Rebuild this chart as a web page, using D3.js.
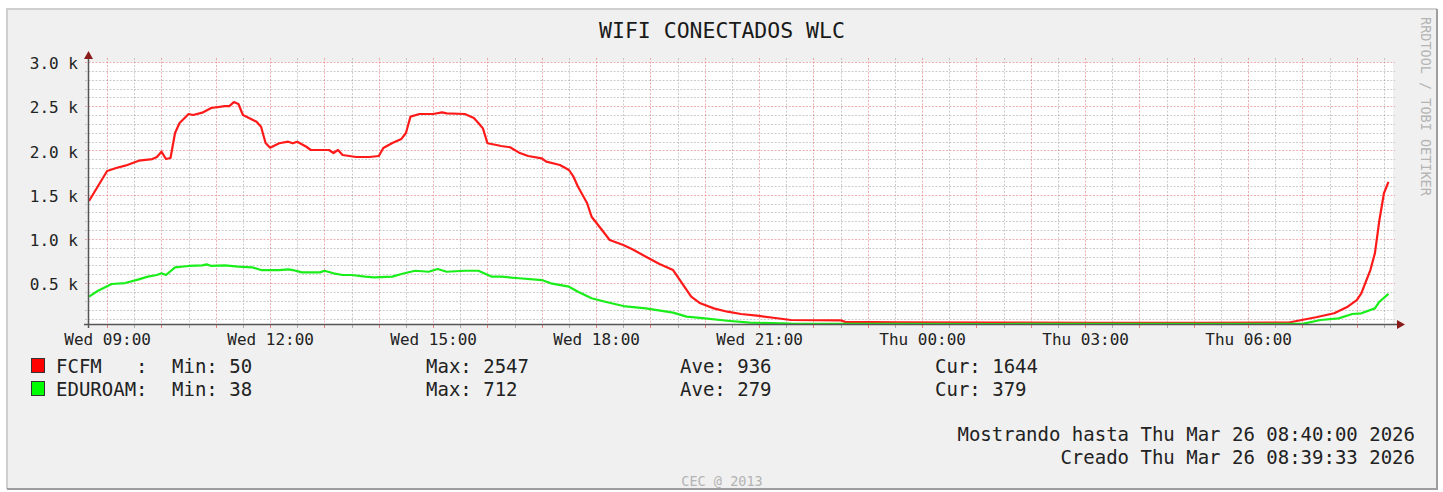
<!DOCTYPE html>
<html>
<head>
<meta charset="utf-8">
<script src="https://cdn.jsdelivr.net/npm/d3@7"></script>
<style>
  body { margin: 0; background: #fff; }
  svg text { font-family: "DejaVu Sans Mono", monospace; }
</style>
</head>
<body>
<div id="chart"></div>
<script>
// samples, minutes after Wed 25 Mar 2026 08:40
const fcfmMinutes = [0, 10, 20, 30, 40, 55, 70, 75, 80, 85, 90, 95, 100, 110, 115, 125, 135, 150, 155, 160,
  165, 170, 185, 190, 195, 200, 210, 220, 225, 230, 240, 245, 265, 270, 275, 280, 295, 310, 320, 325,
  335, 345, 350, 355, 365, 380, 390, 395, 415, 425, 430, 435, 440, 450, 455, 465, 475, 485, 500, 505,
  520, 530, 535, 540, 550, 555, 565, 575, 590, 600, 615, 630, 645, 655, 665, 675, 690, 705, 720, 740,
  760, 775, 830, 835, 895, 1005, 1115, 1225, 1325, 1335, 1355, 1375, 1390, 1400, 1405, 1415, 1420, 1425, 1430, 1435];
const fcfmValues = [1429, 1598, 1768, 1802, 1828, 1884, 1903, 1926, 1986, 1903, 1915, 2197, 2310, 2412, 2401, 2427, 2480, 2502, 2502, 2547,
  2525, 2401, 2325, 2268, 2084, 2031, 2081, 2099, 2081, 2099, 2042, 2005, 2005, 1971, 2005, 1949, 1926, 1926, 1937, 2028,
  2084, 2130, 2197, 2382, 2412, 2412, 2431, 2420, 2412, 2367, 2310, 2250, 2081, 2062, 2050, 2036, 1975, 1937, 1911, 1873,
  1835, 1779, 1703, 1590, 1406, 1251, 1120, 988, 931, 883, 799, 716, 648, 498, 347, 272, 215, 177, 151, 129,
  103, 83, 80, 62, 58, 55, 52, 50, 55, 75, 114, 159, 234, 309, 385, 648, 837, 1214, 1516, 1644];

const eduMinutes = [0, 10, 25, 40, 55, 65, 75, 80, 85, 95, 110, 125, 130, 135, 150, 165, 180, 190, 210, 220,
  225, 235, 255, 260, 270, 280, 290, 305, 315, 335, 345, 360, 375, 385, 395, 415, 430, 445, 455, 475,
  500, 510, 530, 540, 555, 570, 590, 615, 645, 660, 680, 705, 730, 775, 895, 1005, 1115, 1225, 1340, 1360,
  1380, 1395, 1405, 1420, 1425, 1435];
const eduValues = [347, 414, 490, 501, 543, 573, 592, 611, 592, 679, 694, 700, 712, 694, 700, 686, 679, 648, 648, 656,
  648, 622, 622, 640, 611, 592, 592, 573, 566, 573, 603, 640, 629, 660, 629, 640, 640, 573, 573, 555,
  535, 498, 460, 403, 329, 290, 241, 215, 166, 121, 102, 75, 53, 42, 40, 38, 40, 39, 40, 83,
  102, 151, 159, 215, 290, 379];

const yTickValues = [500, 1000, 1500, 2000, 2500, 3000];
const seriesNames = ["FCFM   :", "EDUROAM:"];
const statMin = [50, 38];
const statMax = [2547, 712];
const statAve = [936, 279];
const statCur = [1644, 379];
const footerLines = ["Mostrando hasta Thu Mar 26 08:40:00 2026", "Creado Thu Mar 26 08:39:33 2026"];

const W = 1443, H = 492;
const seriesColors = ["#ff1a1a", "#1aee1a"];
const boxColors = ["#ff0000", "#00ff00"];

const svg = d3.select("#chart").append("svg")
  .attr("width", W).attr("height", H);

// frame
svg.append("rect").attr("x", 7).attr("y", 9).attr("width", 1430).attr("height", 480).attr("fill", "#f0f0f0");
svg.append("path").attr("d", "M7,489 L7,9 L1437,9").attr("fill", "none").attr("stroke", "#cfcfcf").attr("stroke-width", 2);
svg.append("path").attr("d", "M1437,9 L1437,489 L7,489").attr("fill", "none").attr("stroke", "#9e9e9e").attr("stroke-width", 2);

const start = new Date(2026, 2, 25, 8, 40);
const end = new Date(2026, 2, 26, 8, 40);
const x = d3.scaleTime().domain([start, end]).range([89, 1393]);
const y = d3.scaleLinear().domain([38, 3000]).range([324, 62]);

// canvas
svg.append("rect").attr("x", 89).attr("y", 62).attr("width", 1304).attr("height", 262).attr("fill", "#fff");

const grid = svg.append("g");
const minorCol = "rgba(143,143,143,0.45)";
const majorCol = "rgba(222,80,80,0.45)";

// horizontal grid
d3.range(100, 3001, 100).forEach(v => {
  const major = v % 500 === 0;
  grid.append("line")
    .attr("x1", 85).attr("x2", 1395)
    .attr("y1", Math.round(y(v)) + 0.5).attr("y2", Math.round(y(v)) + 0.5)
    .attr("stroke", major ? majorCol : minorCol)
    .attr("stroke-dasharray", "2,1.5");
});

// vertical grid: red every hour, gray on the half hour
x.ticks(d3.timeMinute.every(30)).forEach(t => {
  const major = t.getMinutes() === 0;
  const px = Math.round(x(t)) + 0.5;
  grid.append("line")
    .attr("x1", px).attr("x2", px)
    .attr("y1", 58).attr("y2", 324)
    .attr("stroke", major ? majorCol : minorCol)
    .attr("stroke-dasharray", "2,1.5");
  grid.append("line")
    .attr("x1", px).attr("x2", px)
    .attr("y1", 324).attr("y2", 328)
    .attr("stroke", major ? "rgba(222,80,80,0.7)" : "rgba(143,143,143,0.7)");
});

// lines
const line = d3.line()
  .x(d => x(new Date(start.getTime() + d[0] * 60000)))
  .y(d => y(d[1]));

svg.append("path")
  .datum(fcfmMinutes.map((m, i) => [m, fcfmValues[i]]))
  .attr("d", line)
  .attr("fill", "none")
  .attr("stroke", seriesColors[0])
  .attr("stroke-width", 2.2)
  .attr("stroke-linejoin", "round");

svg.append("path")
  .datum(eduMinutes.map((m, i) => [m, eduValues[i]]))
  .attr("d", line)
  .attr("fill", "none")
  .attr("stroke", seriesColors[1])
  .attr("stroke-width", 2.2)
  .attr("stroke-linejoin", "round");

// axes lines + arrows
svg.append("line").attr("x1", 84).attr("x2", 1398).attr("y1", 324.5).attr("y2", 324.5)
  .attr("stroke", "#555").attr("stroke-width", 1.5);
svg.append("line").attr("x1", 88.5).attr("x2", 88.5).attr("y1", 328).attr("y2", 56)
  .attr("stroke", "#555").attr("stroke-width", 1.5);
svg.append("path").attr("d", "M1397,320 L1405,324.5 L1397,329 Z").attr("fill", "#8b1a1a");
svg.append("path").attr("d", "M84,59 L88.5,51 L93,59 Z").attr("fill", "#8b1a1a");

// tick labels
const xAxis = svg.append("g")
  .attr("transform", "translate(0,324)")
  .call(d3.axisBottom(x)
    .ticks(d3.timeHour.every(3))
    .tickFormat(d3.timeFormat("%a %H:%M"))
    .tickSize(0)
    .tickPadding(9.6));
xAxis.select(".domain").remove();
xAxis.selectAll("text")
  .attr("font-family", "DejaVu Sans Mono")
  .attr("font-size", 16)
  .attr("fill", "#222");

const yAxis = svg.append("g")
  .attr("transform", "translate(89,0)")
  .call(d3.axisLeft(y)
    .tickValues(yTickValues)
    .tickFormat(d => (d / 1000).toFixed(1) + " k")
    .tickSize(0)
    .tickPadding(11));
yAxis.select(".domain").remove();
yAxis.selectAll("text")
  .attr("font-family", "DejaVu Sans Mono")
  .attr("font-size", 16)
  .attr("dy", "0.42em")
  .attr("fill", "#222");

// title
svg.append("text")
  .attr("x", 722).attr("y", 38)
  .attr("text-anchor", "middle")
  .attr("font-size", 21.5)
  .attr("fill", "#1a1a1a")
  .text("WIFI CONECTADOS WLC");

// legend
const legendBase = [373, 396];
seriesNames.forEach((name, i) => {
  const by = legendBase[i];
  svg.append("rect")
    .attr("x", 31.5).attr("y", by - 14.5)
    .attr("width", 13).attr("height", 14)
    .attr("fill", boxColors[i])
    .attr("stroke", "#333").attr("stroke-width", 1);
  const cols = [
    [56, name],
    [172, "Min: " + statMin[i]],
    [426, "Max: " + statMax[i]],
    [680, "Ave: " + statAve[i]],
    [935, "Cur: " + statCur[i]]
  ];
  cols.forEach(([cx, txt]) => {
    svg.append("text")
      .attr("x", cx).attr("y", by)
      .attr("font-size", 19)
      .attr("fill", "#222")
      .attr("xml:space", "preserve")
      .style("white-space", "pre")
      .text(txt);
  });
});

footerLines.forEach((txt, i) => {
  svg.append("text")
    .attr("x", 1415).attr("y", 441 + i * 23)
    .attr("text-anchor", "end")
    .attr("font-size", 19)
    .attr("fill", "#222")
    .text(txt);
});

svg.append("text")
  .attr("x", 722).attr("y", 486)
  .attr("text-anchor", "middle")
  .attr("font-size", 13.5)
  .attr("fill", "#b4b4b4")
  .text("CEC @ 2013");

svg.append("text")
  .attr("transform", "translate(1421,17) rotate(90)")
  .attr("font-size", 13.5)
  .attr("fill", "#b4b4b4")
  .text("RRDTOOL / TOBI OETIKER");
</script>
</body>
</html>
